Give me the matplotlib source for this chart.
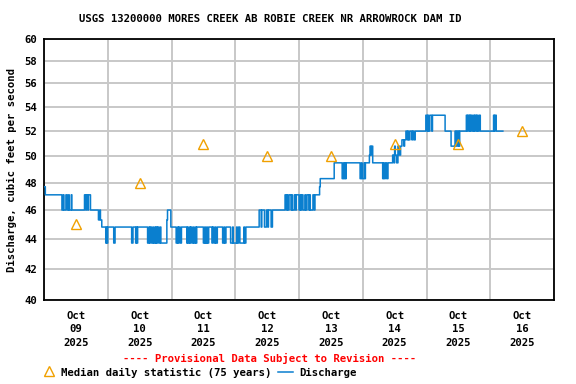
import numpy as np
import pandas as pd
import matplotlib
matplotlib.use("Agg")
import matplotlib.pyplot as plt
import matplotlib.dates as mdates
from matplotlib.lines import Line2D
from matplotlib.ticker import FixedLocator, NullLocator

# discharge, 15-minute values stored as run lengths (value, number of readings)
q_values = [47.7, 47.1,
            46.0, 47.1, 46.0, 47.1, 46.0, 47.1, 46.0, 47.1, 46.0,
            46.0,
            47.1, 46.0, 47.1, 46.0, 47.1,
            46.0,
            45.3, 46.0, 45.3,
            44.8,
            43.7, 44.8, 43.7, 44.8, 43.7, 44.8, 43.7, 44.8, 43.7, 44.8, 43.7, 44.8,
            43.7, 44.8, 43.7, 44.8, 43.7, 44.8, 43.7, 44.8, 43.7, 44.8, 43.7, 44.8, 43.7,
            44.8, 43.7, 44.8, 43.7, 45.3, 46.0, 44.8,
            43.7, 44.8, 43.7, 44.8, 43.7, 44.8,
            43.7, 44.8, 43.7, 44.8, 43.7, 44.8, 43.7, 44.8, 43.7, 44.8, 43.7, 44.8,
            43.7, 44.8, 43.7, 44.8, 43.7, 44.8,
            43.7, 44.8, 43.7, 44.8, 43.7, 44.8,
            43.7, 44.8, 43.7, 44.8,
            43.7, 44.8, 43.7, 44.8, 43.7, 44.8, 43.7, 44.8, 43.7, 44.8,
            44.8, 46.0, 44.8, 46.0, 44.8, 46.0, 44.8, 46.0, 44.8, 46.0,
            46.0,
            47.1, 46.0, 47.1, 46.0, 47.1, 46.0, 47.1, 46.0, 47.1, 46.0, 47.1, 46.0,
            47.1, 46.0, 47.1, 46.0, 47.1, 46.0, 47.1, 46.0, 47.1, 46.0, 47.1, 46.0,
            47.1, 47.7, 48.3,
            49.5, 48.3, 49.5, 48.3, 49.5, 48.3, 49.5,
            48.3, 49.5, 48.3, 49.5, 48.3, 49.5,
            50.1, 50.8, 50.1, 50.8, 49.5,
            48.3, 49.5, 48.3, 49.5, 48.3, 49.5,
            50.1, 49.5, 50.8, 50.1, 49.5, 50.8, 50.1,
            50.8, 51.3, 50.8, 51.3,
            52.0, 51.3, 52.0, 51.3, 52.0, 51.3, 52.0, 51.3, 52.0,
            52.0,
            53.3, 52.0, 53.3, 52.0, 53.3, 52.0, 53.3,
            53.3, 52.0,
            50.8, 52.0, 50.8,
            52.0, 50.8, 52.0, 50.8, 52.0,
            52.0,
            53.3, 52.0, 53.3, 52.0, 53.3, 52.0, 53.3, 52.0, 53.3, 52.0, 53.3, 52.0,
            53.3, 52.0, 53.3,
            52.0,
            53.3, 52.0, 53.3, 52.0]
q_counts = [2, 25,
            2, 1, 3, 2, 2, 1, 3, 1, 2,
            17,
            2, 1, 2, 1, 3,
            12,
            2, 1, 2,
            6,
            1, 1, 1, 9, 2, 25, 2, 4, 1, 1, 1, 15,
            2, 1, 1, 2, 2, 1, 2, 1, 1, 1, 1, 2, 2,
            1, 9, 0, 0, 1, 5, 8,
            2, 1, 1, 2, 2, 8,
            1, 1, 2, 1, 1, 2, 2, 1, 2, 1, 1, 10,
            2, 1, 2, 1, 2, 5,
            1, 2, 2, 1, 2, 8,
            2, 1, 2, 7,
            3, 1, 5, 1, 2, 2, 6, 1, 2, 18,
            2, 3, 1, 4, 3, 2, 1, 4, 2, 1,
            18,
            2, 1, 1, 2, 3, 1, 1, 3, 2, 1, 4, 2,
            1, 1, 2, 3, 1, 2, 3, 1, 1, 4, 2, 1,
            7, 1, 21,
            12, 2, 1, 1, 1, 1, 21,
            2, 1, 3, 1, 1, 6,
            1, 1, 1, 2, 15,
            1, 1, 2, 2, 2, 7,
            2, 1, 1, 2, 2, 2, 2,
            2, 3, 1, 2,
            2, 1, 1, 2, 3, 1, 2, 2, 1,
            15,
            2, 1, 1, 2, 3, 1, 4,
            15, 9,
            6, 1, 1,
            2, 1, 1, 1, 2,
            8,
            1, 1, 2, 1, 1, 1, 2, 2, 1, 1, 2, 1,
            1, 2, 2,
            20,
            1, 1, 2, 11]

# median daily statistic, plotted at noon
median_days = ["2025-10-09", "2025-10-10", "2025-10-11", "2025-10-12",
               "2025-10-13", "2025-10-14", "2025-10-15", "2025-10-16"]
median_vals = [45, 48, 51, 50, 50, 51, 51, 52]

y_ticks = [40, 42, 44, 46, 48, 50, 52, 54, 56, 58, 60]

q = np.repeat(q_values, q_counts)
t = pd.date_range("2025-10-09 00:00", periods=len(q), freq="15min")
med_t = pd.to_datetime(median_days) + pd.Timedelta(hours=12)

font = "DejaVu Sans Mono"
fs = 7.7
blue = "#0a7fcf"
orange = "#f0a000"

fig = plt.figure(figsize=(5.76, 3.84), dpi=100)
ax = fig.add_axes([44/576, 1-300/384, 510/576, 261/384])

ax.plot(t, q, drawstyle="steps-post", color=blue, lw=1.1, zorder=3)
ax.plot(med_t, median_vals, linestyle="none", marker="^", ms=7, mfc="none",
        mec=orange, mew=1.0, zorder=4)

ax.set_yscale("log")
ax.set_ylim(40, 60)
ax.yaxis.set_major_locator(FixedLocator(y_ticks))
ax.yaxis.set_minor_locator(NullLocator())
ax.set_yticklabels([str(v) for v in y_ticks], fontfamily=font, fontweight="bold", fontsize=fs)

ax.set_xlim(pd.Timestamp("2025-10-09"), pd.Timestamp("2025-10-17"))
ax.set_xticks(med_t)
ax.set_xticklabels([d.strftime("%b\n%d\n%Y") for d in med_t], fontfamily=font,
                   fontweight="bold", fontsize=fs, linespacing=1.4)
ax.xaxis.set_minor_locator(mdates.DayLocator())

ax.grid(True, which="major", axis="y", color="#c8c8c8", lw=1.4)
ax.grid(True, which="minor", axis="x", color="#c8c8c8", lw=1.4)
ax.tick_params(which="both", length=0)
ax.tick_params(axis="x", pad=8)
ax.tick_params(axis="y", pad=5)
for s in ax.spines.values():
    s.set_color("black")
    s.set_linewidth(1.3)

ax.set_ylabel("Discharge, cubic feet per second", fontfamily=font,
              fontweight="bold", fontsize=fs, labelpad=5)
ax.set_title("USGS 13200000 MORES CREEK AB ROBIE CREEK NR ARROWROCK DAM ID",
             fontfamily=font, fontweight="bold", fontsize=fs, pad=12,
             x=(270-44)/510)

fig.text(270/576, 1-358/384, "---- Provisional Data Subject to Revision ----",
         color="red", ha="center", va="center", fontfamily=font,
         fontweight="bold", fontsize=fs)

# legend row
fig.add_artist(Line2D([49/576], [1-371/384], marker="^", ms=7, mfc="none",
                      mec=orange, mew=1.0, linestyle="none"))
fig.text(61/576, 1-373/384, "Median daily statistic (75 years)", ha="left",
         va="center", fontfamily=font, fontweight="bold", fontsize=fs)
fig.add_artist(Line2D([278/576, 293/576], [1-372/384, 1-372/384],
                      color=blue, lw=1.1))
fig.text(299/576, 1-373/384, "Discharge", ha="left", va="center",
         fontfamily=font, fontweight="bold", fontsize=fs)

fig.savefig("out.png", dpi=100)
